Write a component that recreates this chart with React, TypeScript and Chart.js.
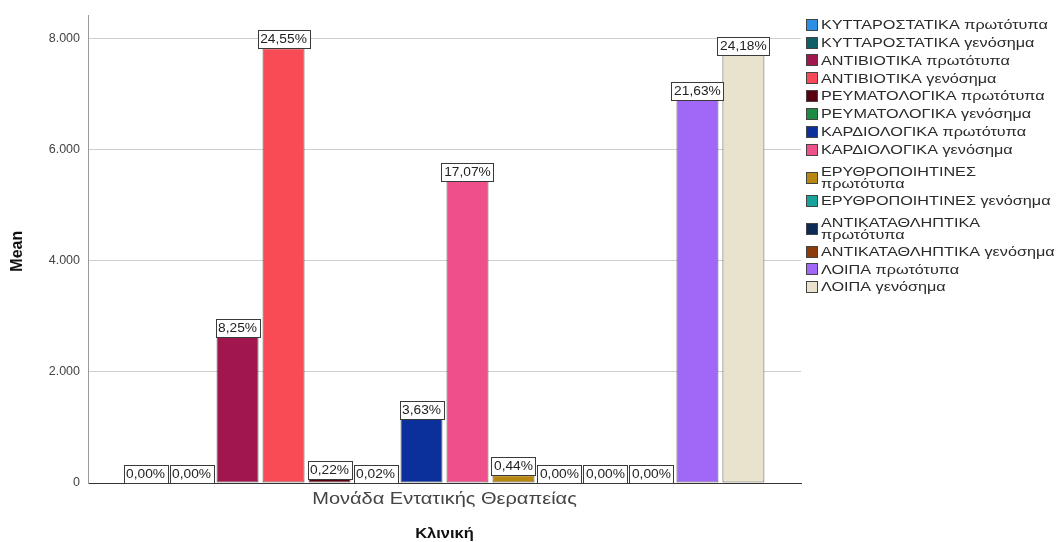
import { useEffect, useRef } from "react";
import { Chart, registerables } from "chart.js";

Chart.register(...registerables);

// Clinic shown on the category axis
const clinics = ["Μονάδα Εντατικής Θεραπείας"];

// Drug groups (one bar each); "\n" marks where the legend wraps a name
const seriesNames = [
  "ΚΥΤΤΑΡΟΣΤΑΤΙΚΑ πρωτότυπα",
  "ΚΥΤΤΑΡΟΣΤΑΤΙΚΑ γενόσημα",
  "ΑΝΤΙΒΙΟΤΙΚΑ πρωτότυπα",
  "ΑΝΤΙΒΙΟΤΙΚΑ γενόσημα",
  "ΡΕΥΜΑΤΟΛΟΓΙΚΑ πρωτότυπα",
  "ΡΕΥΜΑΤΟΛΟΓΙΚΑ γενόσημα",
  "ΚΑΡΔΙΟΛΟΓΙΚΑ πρωτότυπα",
  "ΚΑΡΔΙΟΛΟΓΙΚΑ γενόσημα",
  "ΕΡΥΘΡΟΠΟΙΗΤΙΝΕΣ\nπρωτότυπα",
  "ΕΡΥΘΡΟΠΟΙΗΤΙΝΕΣ γενόσημα",
  "ΑΝΤΙΚΑΤΑΘΛΗΠΤΙΚΑ\nπρωτότυπα",
  "ΑΝΤΙΚΑΤΑΘΛΗΠΤΙΚΑ γενόσημα",
  "ΛΟΙΠΑ πρωτότυπα",
  "ΛΟΙΠΑ γενόσημα",
];

// Share of the total mean spending per group (%)
const sharePct = [0, 0, 8.25, 24.55, 0.22, 0.02, 3.63, 17.07, 0.44, 0, 0, 0, 21.63, 24.18];

// Sum of all group means; each bar is its share of this total
const totalMean = 31850;

const seriesColors = [
  "#2b8fe6",
  "#115f66",
  "#a1174d",
  "#f94b55",
  "#5c0011",
  "#1f8a43",
  "#0b309c",
  "#ef508c",
  "#b8870f",
  "#17a39b",
  "#0c2b55",
  "#8c3b0b",
  "#a168f8",
  "#e9e3cd",
];

const yTicks = [0, 2000, 4000, 6000, 8000];
const yMax = 8410;

const FONT = "'Liberation Sans', Arial, sans-serif";

const fmtThousands = (v: number) =>
  String(Math.round(v)).replace(/\B(?=(\d{3})+(?!\d))/g, ".");
const fmtPct = (p: number) => p.toFixed(2).replace(".", ",") + "%";

function wideText(
  ctx: CanvasRenderingContext2D,
  text: string,
  x: number,
  y: number,
  sx: number,
  align: CanvasTextAlign
) {
  ctx.save();
  ctx.translate(x, y);
  ctx.scale(sx, 1);
  ctx.textAlign = align;
  ctx.fillText(text, 0, 0);
  ctx.restore();
}

// Boxed percentage labels above each bar
const valueBoxes = {
  id: "valueBoxes",
  afterDatasetsDraw(chart: any) {
    const ctx: CanvasRenderingContext2D = chart.ctx;
    const sx = 1.1;
    ctx.save();
    ctx.font = `12.5px ${FONT}`;
    ctx.textBaseline = "middle";
    chart.data.datasets.forEach((ds: any, i: number) => {
      const el = chart.getDatasetMeta(i).data[0];
      if (!el) return;
      const text = fmtPct(ds.share);
      const w = Math.round(ctx.measureText(text).width * sx + 5);
      const h = 18;
      const left = Math.round(el.x - w / 2) + 0.5;
      const top = Math.round(el.y - h) + 0.5;
      ctx.fillStyle = "#ffffff";
      ctx.fillRect(left, top, w, h);
      ctx.strokeStyle = "#3a3a3a";
      ctx.lineWidth = 1;
      ctx.strokeRect(left, top, w, h);
      ctx.fillStyle = "#222";
      wideText(ctx, text, el.x, top + h / 2 + 0.5, sx, "center");
    });
    ctx.restore();
  },
};

// Axis titles, category label and the legend on the right
const decorations = {
  id: "decorations",
  afterDraw(chart: any) {
    const ctx: CanvasRenderingContext2D = chart.ctx;
    const area = chart.chartArea;
    const cx = (area.left + area.right) / 2;
    ctx.save();
    ctx.textBaseline = "middle";

    // category label
    ctx.fillStyle = "#444";
    ctx.font = `16px ${FONT}`;
    wideText(ctx, clinics[0], cx, area.bottom + 17, 1.25, "center");

    // x title
    ctx.fillStyle = "#111";
    ctx.font = `bold 15px ${FONT}`;
    wideText(ctx, "Κλινική", cx, area.bottom + 51, 1.1, "center");

    // y title
    ctx.save();
    ctx.translate(18, (area.top + area.bottom) / 2 + 2);
    ctx.rotate(-Math.PI / 2);
    ctx.font = `bold 16px ${FONT}`;
    ctx.textAlign = "center";
    ctx.fillText("Mean", 0, 0);
    ctx.restore();

    // legend
    const sw = 12;
    const swX = area.right + 5;
    const textX = swX + sw + 3;
    const rowH = 17.8;
    const lineGap = 12;
    let y = 16;
    ctx.font = `13.5px ${FONT}`;
    chart.data.datasets.forEach((ds: any) => {
      const lines: string[] = ds.label.split("\n");
      const extra = (lines.length - 1) * 15.4;
      const block = rowH + extra;
      const firstY = lines.length > 1 ? y + 13.5 : y + rowH / 2;
      const midY = firstY + ((lines.length - 1) * lineGap) / 2;
      ctx.fillStyle = ds.backgroundColor;
      ctx.fillRect(swX, Math.round(midY - sw / 2), sw, sw);
      ctx.strokeStyle = "#444";
      ctx.lineWidth = 1;
      ctx.strokeRect(swX + 0.5, Math.round(midY - sw / 2) + 0.5, sw - 1, sw - 1);
      ctx.fillStyle = "#2a2a2a";
      lines.forEach((ln, k) => {
        wideText(ctx, ln, textX, firstY + k * lineGap + 0.5, 1.2, "left");
      });
      y += block;
    });
    ctx.restore();
  },
};

export default function App() {
  const canvasRef = useRef<HTMLCanvasElement | null>(null);

  useEffect(() => {
    if (!canvasRef.current) return;
    const chart = new Chart(canvasRef.current, {
      type: "bar",
      data: {
        labels: clinics,
        datasets: seriesNames.map((name, i) => ({
          label: name,
          share: sharePct[i],
          data: [(sharePct[i] / 100) * totalMean],
          backgroundColor: seriesColors[i],
          borderColor: "rgba(45,45,45,0.8)",
          borderWidth: 1,
          borderSkipped: false,
          barPercentage: 0.913,
          categoryPercentage: 0.903,
        })) as any,
      },
      options: {
        responsive: false,
        animation: false,
        devicePixelRatio: 1,
        layout: { padding: { left: 0, top: 15, right: 261, bottom: 0 } },
        plugins: {
          legend: { display: false },
          tooltip: { enabled: false },
          title: { display: false },
        },
        scales: {
          x: {
            grid: { display: false },
            border: { display: true, color: "#333", width: 1 },
            ticks: { display: false },
            afterFit: (s: any) => {
              s.height = 59;
            },
          },
          y: {
            min: 0,
            max: yMax,
            afterBuildTicks: (s: any) => {
              s.ticks = yTicks.map((v) => ({ value: v }));
            },
            grid: { color: "#cfcfcf", drawTicks: false, lineWidth: 1 },
            border: { display: true, color: "#9a9a9a", width: 1 },
            ticks: {
              padding: 8,
              color: "#444",
              font: { size: 12.5, family: FONT },
              callback: (v: any) => fmtThousands(Number(v)),
            },
            afterFit: (s: any) => {
              s.width = 88;
            },
          },
        },
      },
      plugins: [valueBoxes, decorations],
    });
    return () => chart.destroy();
  }, []);

  return (
    <div style={{ position: "fixed", left: 0, top: 0, width: 1062, height: 542, background: "#fff" }}>
      <canvas ref={canvasRef} width={1062} height={542} style={{ display: "block" }} />
    </div>
  );
}
